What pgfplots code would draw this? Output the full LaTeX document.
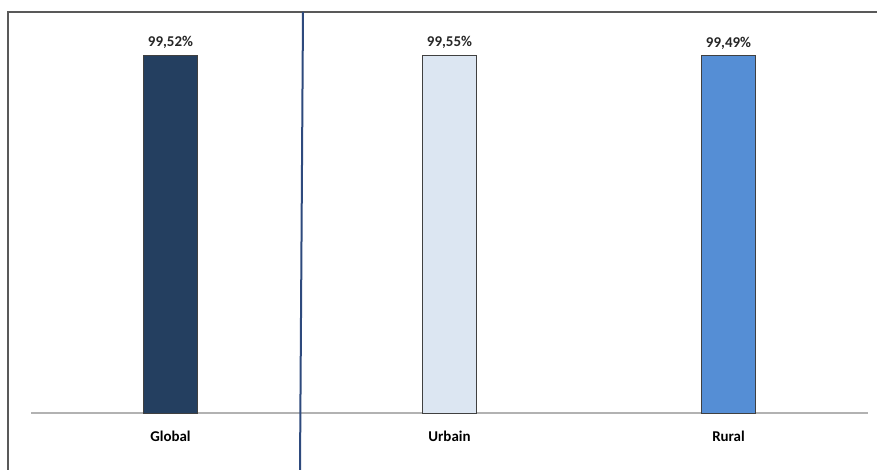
\documentclass[border=0pt]{standalone}
\usepackage{pgfplots}
\pgfplotsset{compat=1.18}
\usepackage{fontspec}
\setmainfont{Carlito}
\definecolor{cGlobal}{HTML}{243F60}
\definecolor{cUrb}{HTML}{DCE6F2}
\definecolor{cRur}{HTML}{558ED5}
\definecolor{frameC}{HTML}{595959}
\definecolor{vlineC}{HTML}{2E4A7D}
\begin{document}
\begin{tikzpicture}[x=1bp,y=1bp]
\useasboundingbox (0,0) rectangle (877,470);
\begin{axis}[
  at={(31bp,57bp)}, anchor=south west,
  scale only axis, width=837bp, height=359bp,
  ybar, bar width=54bp, bar shift=0pt,
  xmin=-0.5, xmax=2.5, ymin=0, ymax=100,
  xtick={0,1,2}, xticklabels={Global,Urbain,Rural},
  ytick=\empty,
  axis y line=none, axis x line*=bottom,
  x axis line style={draw=black!30, line width=1.3bp, -},
  major tick length=0pt,
  xticklabel style={font=\fontsize{15}{18}\selectfont\bfseries, text=black, yshift=-14bp},
  nodes near coords={\pgfmathprintnumber[fixed,fixed zerofill,precision=2,use comma,assume math mode=true]{\pgfplotspointmeta}\%},
  every node near coord/.append style={font=\fontsize{15}{18}\selectfont\bfseries, text=black!85, yshift=3bp},
  clip=false,
]
\addplot[fill=cGlobal, draw=black!75, line width=0.8bp] coordinates {(0,99.52)};
\addplot[fill=cUrb, draw=black!75, line width=0.8bp] coordinates {(1,99.55)};
\addplot[fill=cRur, draw=black!75, line width=0.8bp] coordinates {(2,99.49)};
\end{axis}
\draw[frameC, line width=1.5bp] (8,0) -- (8,458) -- (877,458);
\draw[vlineC, line width=2bp] (303,458) -- (300,0);
\end{tikzpicture}
\end{document}
